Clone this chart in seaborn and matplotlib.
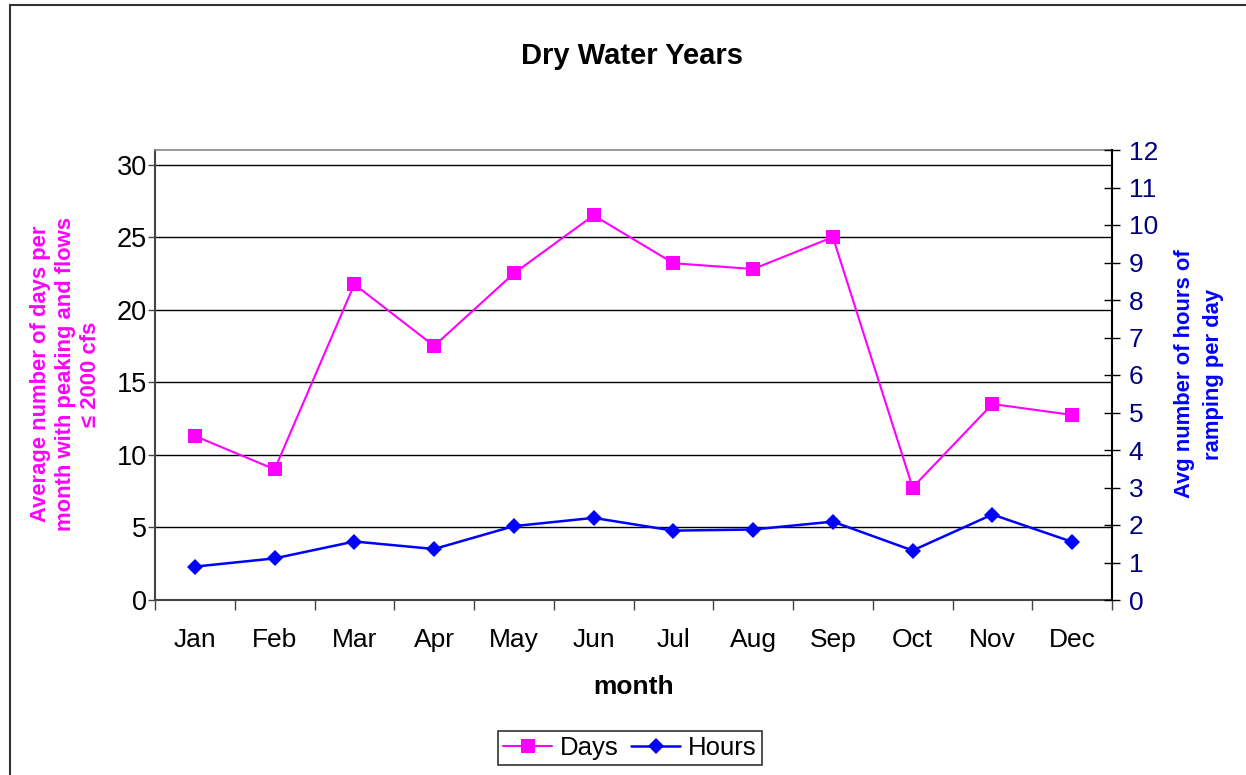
import numpy as np
import pandas as pd
import seaborn as sns
import matplotlib.pyplot as plt
from matplotlib.lines import Line2D

# Data
months = ['Jan', 'Feb', 'Mar', 'Apr', 'May', 'Jun', 'Jul', 'Aug', 'Sep', 'Oct', 'Nov', 'Dec']
days = [11.3, 9.0, 21.75, 17.5, 22.5, 26.5, 23.2, 22.8, 25.0, 7.75, 13.5, 12.75]
hours = [0.89, 1.11, 1.56, 1.36, 1.97, 2.19, 1.85, 1.88, 2.09, 1.32, 2.28, 1.55]

left_ticks = [0, 5, 10, 15, 20, 25, 30]
right_ticks = list(range(0, 13))

df = pd.DataFrame({'month': months, 'Days': days, 'Hours': hours})

sns.set_theme(style='white')
plt.rcParams['font.family'] = ['Liberation Sans', 'DejaVu Sans']
plt.rcParams['text.color'] = 'black'
plt.rcParams['axes.labelcolor'] = 'black'

fig = plt.figure(figsize=(12.46, 7.75), dpi=100)
ax = fig.add_axes([155 / 1246, 1 - 600 / 775, (1112 - 155) / 1246, 450 / 775])
ax2 = ax.twinx()

sns.lineplot(data=df, x='month', y='Days', ax=ax, color='#FF00FF', marker='s',
             markersize=9.5, markeredgewidth=0, linewidth=1.5, sort=False)
sns.lineplot(data=df, x='month', y='Hours', ax=ax2, color='#0000FF', marker='D',
             markersize=8.5, markeredgewidth=0, linewidth=1.8, sort=False)

# left axis
ax.set_ylim(0, 31)
ax.set_yticks(left_ticks)
ax.set_xlim(-0.5, 11.5)
ax.yaxis.grid(True, color='black', linewidth=1)
ax.set_axisbelow(True)
ax.tick_params(axis='y', direction='out', length=5, width=1, color='#444444',
               labelsize=19.5, labelcolor='black', left=True, pad=1)
ax.set_xticks(range(len(months)))
ax.set_xticklabels(months)
ax.set_xticks(np.arange(-0.5, 12, 1), minor=True)
ax.tick_params(axis='x', which='major', length=0, labelsize=19, labelcolor='black', pad=20)
ax.tick_params(axis='x', which='minor', direction='out', length=7, width=1,
               color='#444444', bottom=True)
ax.set_xlabel('month', fontsize=19, fontweight='bold', labelpad=17)
ax.set_ylabel('')

for side in ['left', 'bottom']:
    ax.spines[side].set_color('#444444')
    ax.spines[side].set_linewidth(1.5)
ax.spines['top'].set_color('#888888')
ax.spines['top'].set_linewidth(1.2)
ax.spines['right'].set_visible(False)

# right axis
ax2.set_ylim(0, 12)
ax2.set_yticks(right_ticks)
ax2.tick_params(axis='y', direction='inout', length=12, width=1, color='black',
                labelsize=19, labelcolor='#000080', right=True, pad=6)
ax2.set_ylabel('')
ax2.grid(False)
for side in ['left', 'top', 'bottom']:
    ax2.spines[side].set_visible(False)
ax2.spines['right'].set_color('black')
ax2.spines['right'].set_linewidth(1.5)

# axis titles
fig.text(66 / 1246, 1 - 374 / 775,
         'Average number of days per\nmonth with peaking and flows\n\u2264 2000 cfs',
         rotation=90, ha='center', va='center', multialignment='center',
         color='#FF00FF', fontsize=15.8, fontweight='bold', linespacing=1.25)
fig.text(1199 / 1246, 1 - 374 / 775,
         'Avg number of hours of\nramping per day',
         rotation=90, ha='center', va='center', multialignment='center',
         color='#0000FF', fontsize=15.8, fontweight='bold', linespacing=1.45)

fig.text(632 / 1246, 1 - 56 / 775, 'Dry Water Years', ha='center', va='center',
         fontsize=21, fontweight='bold', color='black')

handles = [
    Line2D([], [], color='#FF00FF', marker='s', markersize=9.5, markeredgewidth=0, linewidth=1.5),
    Line2D([], [], color='#0000FF', marker='D', markersize=8.5, markeredgewidth=0, linewidth=1.8),
]
leg = fig.legend(handles, ['Days', 'Hours'], loc='center', ncol=2,
                 bbox_to_anchor=(630 / 1246, 1 - 748 / 775), fontsize=18.5,
                 frameon=True, fancybox=False, handlelength=1.9, handletextpad=0.3,
                 columnspacing=0.5, borderpad=0.2, borderaxespad=0)
leg.get_frame().set_edgecolor('black')
leg.get_frame().set_linewidth(1.2)
for t in leg.get_texts():
    t.set_color('black')

# chart area border (top and left visible)
fig.add_artist(Line2D([10 / 1246, 10 / 1246], [0, 1 - 5 / 775], color='#333333', linewidth=1.5))
fig.add_artist(Line2D([10 / 1246, 1], [1 - 5 / 775, 1 - 5 / 775], color='#333333', linewidth=1.5))

fig.savefig('out.png', dpi=100)
